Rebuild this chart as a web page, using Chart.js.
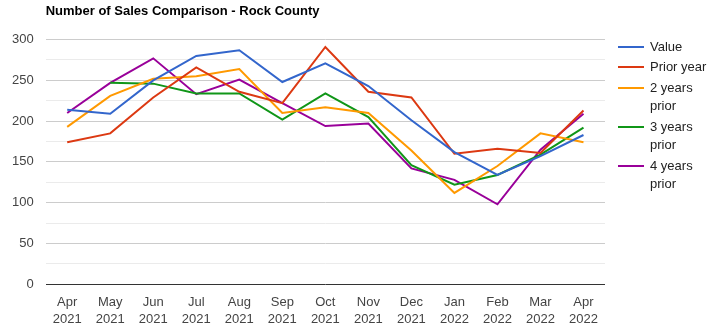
<!DOCTYPE html>
<html>
<head>
<meta charset="utf-8">
<script src="https://cdn.jsdelivr.net/npm/chart.js@4/dist/chart.umd.min.js"></script>
<style>
  body { margin: 0; background: #fff; overflow: hidden; }
  #wrap { position: relative; width: 714px; height: 332px; overflow: hidden; }
  #legend { position: absolute; left: 618px; top: 37.5px; font: 13px Arial, "Liberation Sans", sans-serif; color: #222; }
  .item { position: relative; padding-left: 32px; width: 64px; line-height: 18.5px; margin-bottom: 2px; }
  .item i { position: absolute; left: 0; top: 8px; width: 26px; height: 2px; }
</style>
</head>
<body>
<div id="wrap">
  <canvas id="chart" width="714" height="338"></canvas>
  <div id="legend"></div>
</div>
<script>
// data
const months = [['Apr', '2021'], ['May', '2021'], ['Jun', '2021'], ['Jul', '2021'], ['Aug', '2021'], ['Sep', '2021'],
  ['Oct', '2021'], ['Nov', '2021'], ['Dec', '2021'], ['Jan', '2022'], ['Feb', '2022'], ['Mar', '2022'], ['Apr', '2022']];
const value = [214, 209, 250, 280, 287, 248, 271, 243, 201, 162, 134, 157, 183];
const priorYear = [174, 185, 229, 266, 236, 222, 291, 236, 229, 160, 166, 161, 213];
const twoYears = [193, 231, 252, 255, 264, 210, 217, 210, 164, 112, 145, 185, 174];
const threeYears = [null, 247, 246, 234, 234, 202, 234, 205, 146, 122, 134, 159, 192];
const fourYears = [210, 247, 277, 233, 251, 222, 194, 197, 142, 128, 98, 165, 209];

const names = ['Value', 'Prior year', '2 years prior', '3 years prior', '4 years prior'];
const colors = ['#3366cc', '#dc3912', '#ff9900', '#109618', '#990099'];
const series = [value, priorYear, twoYears, threeYears, fourYears];

const font = 'Arial, "Liberation Sans", sans-serif';

new Chart(document.getElementById('chart'), {
  type: 'line',
  data: {
    labels: months,
    datasets: series.map((d, i) => ({
      label: names[i],
      data: d,
      borderColor: colors[i],
      backgroundColor: colors[i],
      borderWidth: 2,
      pointRadius: 0,
      tension: 0
    }))
  },
  options: {
    responsive: false,
    animation: false,
    layout: { padding: { left: 0, right: 109, top: 0, bottom: 0 } },
    plugins: {
      legend: { display: false },
      tooltip: { enabled: false },
      title: {
        display: true,
        text: 'Number of Sales Comparison - Rock County',
        align: 'start',
        fullSize: false,
        color: '#000',
        font: { family: font, size: 13, weight: 'bold' },
        padding: { top: 4, bottom: 20 }
      }
    },
    scales: {
      x: {
        offset: true,
        grid: { display: false, drawTicks: false },
        border: { display: false },
        ticks: { color: '#444', font: { family: font, size: 13, lineHeight: 1.3 }, padding: 10, maxRotation: 0, autoSkip: false }
      },
      y: {
        min: 0,
        max: 300,
        border: { display: false },
        grid: {
          drawTicks: false,
          lineWidth: 1,
          color: c => c.tick.value === 0 ? '#333' : (c.tick.value % 50 === 0 ? '#cccccc' : '#ebebeb')
        },
        ticks: {
          stepSize: 25,
          padding: 12,
          color: '#444',
          font: { family: font, size: 13 },
          callback: v => v % 50 === 0 ? v : ''
        }
      }
    }
  }
});

// legend with wrapped labels, built from the series names and colours
const legend = document.getElementById('legend');
names.forEach((n, i) => {
  const div = document.createElement('div');
  div.className = 'item';
  div.innerHTML = '<i style="background:' + colors[i] + '"></i>' + n;
  legend.appendChild(div);
});
</script>
</body>
</html>
